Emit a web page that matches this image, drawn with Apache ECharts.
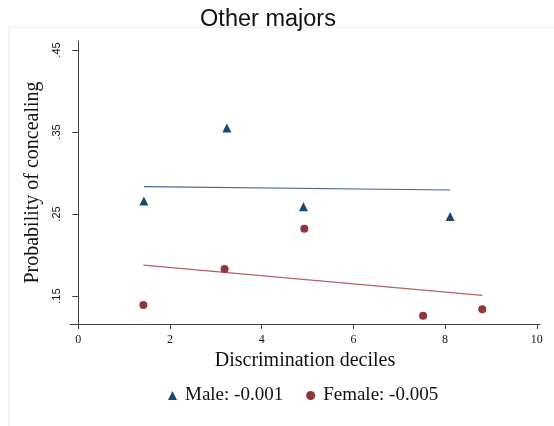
<!DOCTYPE html>
<html>
<head>
<meta charset="utf-8">
<script src="https://cdn.jsdelivr.net/npm/echarts@6/dist/echarts.min.js"></script>
<style>
  html, body { margin: 0; padding: 0; background: #ffffff; }
  #chart { width: 554px; height: 426px; }
</style>
</head>
<body>
<div id="chart"></div>
<script>
// Binned means by discrimination decile
const maleX = [1.43, 3.24, 4.91, 8.11];
const maleY = [0.266, 0.355, 0.259, 0.247];
const femaleX = [1.42, 3.19, 4.93, 7.52, 8.81];
const femaleY = [0.139, 0.183, 0.232, 0.126, 0.134];

// Linear fit endpoints
const maleFitX = [1.43, 8.11];
const maleFitY = [0.2833, 0.2793];
const femaleFitX = [1.42, 8.81];
const femaleFitY = [0.1878, 0.1509];

// Axis ticks and labels
const xTicks = [0, 2, 4, 6, 8, 10];
const yTicks = [0.15, 0.25, 0.35, 0.45];
const yTickLabels = ['.15', '.25', '.35', '.45'];

const titleText = 'Other majors';
const xTitle = 'Discrimination deciles';
const yTitle = 'Probability of concealing';
const maleName = 'Male: -0.001';
const femaleName = 'Female: -0.005';

const NAVY = '#1a476f';
const MAROON = '#90353b';
const AXIS = '#404040';
const SERIF = '"Liberation Serif", "DejaVu Serif", serif';
const SANS = '"Liberation Sans", "DejaVu Sans", sans-serif';

const zip = (xs, ys) => xs.map((x, i) => [x, ys[i]]);

const chart = echarts.init(document.getElementById('chart'), null, { renderer: 'canvas' });

chart.setOption({
  backgroundColor: '#ffffff',
  animation: false,
  graphic: [
    {
      type: 'rect',
      silent: true,
      z: -10,
      shape: { x: 8.5, y: 27.5, width: 700, height: 500 },
      style: { fill: 'none', stroke: '#e9edf1', lineWidth: 1 }
    },
    {
      type: 'text',
      x: 268,
      y: 20,
      style: {
        text: titleText,
        fontFamily: SANS,
        fontSize: 23.5,
        fill: '#111111',
        align: 'center',
        verticalAlign: 'middle'
      }
    }
  ],
  grid: { left: 70, top: 41, width: 470, height: 283, containLabel: false },
  legend: {
    left: 168,
    top: 386,
    padding: 0,
    itemWidth: 9,
    itemHeight: 9,
    itemGap: 23,
    symbolKeepAspect: true,
    data: [maleName, femaleName],
    textStyle: { fontFamily: SERIF, fontSize: 19, color: '#111111', lineHeight: 19, padding: [0, 0, 0, 3] }
  },
  xAxis: {
    type: 'value',
    min: -0.181,
    max: 10.07,
    name: xTitle,
    nameLocation: 'middle',
    nameGap: 23,
    nameTextStyle: { fontFamily: SERIF, fontSize: 20, color: '#111111', lineHeight: 20 },
    axisLine: { show: true, lineStyle: { color: AXIS, width: 1 } },
    axisTick: { show: true, length: 5, customValues: xTicks, lineStyle: { color: AXIS } },
    axisLabel: {
      customValues: xTicks,
      margin: 10,
      fontFamily: SERIF,
      fontSize: 12,
      lineHeight: 12,
      color: '#111111'
    },
    splitLine: { show: false }
  },
  yAxis: {
    type: 'value',
    min: 0.1159,
    max: 0.461,
    name: yTitle,
    nameLocation: 'middle',
    nameRotate: 90,
    nameGap: 22,
    nameTextStyle: { fontFamily: SERIF, fontSize: 20, color: '#111111', lineHeight: 20 },
    axisLine: { show: true, lineStyle: { color: AXIS, width: 1 } },
    axisTick: { show: true, length: 6, customValues: yTicks, lineStyle: { color: AXIS } },
    axisLabel: {
      customValues: yTicks,
      rotate: 90,
      margin: 8,
      fontFamily: SANS,
      fontSize: 11,
      lineHeight: 11,
      color: '#111111',
      formatter: (v) => {
        const i = yTicks.findIndex((t) => Math.abs(t - v) < 1e-9);
        return i >= 0 ? yTickLabels[i] : '';
      }
    },
    splitLine: { show: false }
  },
  series: [
    {
      name: 'Male fit',
      type: 'line',
      data: zip(maleFitX, maleFitY),
      showSymbol: false,
      lineStyle: { color: '#4a6a8d', width: 1.2 },
      z: 1
    },
    {
      name: 'Female fit',
      type: 'line',
      data: zip(femaleFitX, femaleFitY),
      showSymbol: false,
      lineStyle: { color: '#b45f66', width: 1.2 },
      z: 1
    },
    {
      name: maleName,
      type: 'scatter',
      symbol: 'triangle',
      symbolSize: 9,
      data: zip(maleX, maleY),
      itemStyle: { color: NAVY, opacity: 1 },
      z: 3
    },
    {
      name: femaleName,
      type: 'scatter',
      symbol: 'circle',
      symbolSize: 8,
      data: zip(femaleX, femaleY),
      itemStyle: { color: MAROON, opacity: 1 },
      z: 3
    }
  ]
});
</script>
</body>
</html>
